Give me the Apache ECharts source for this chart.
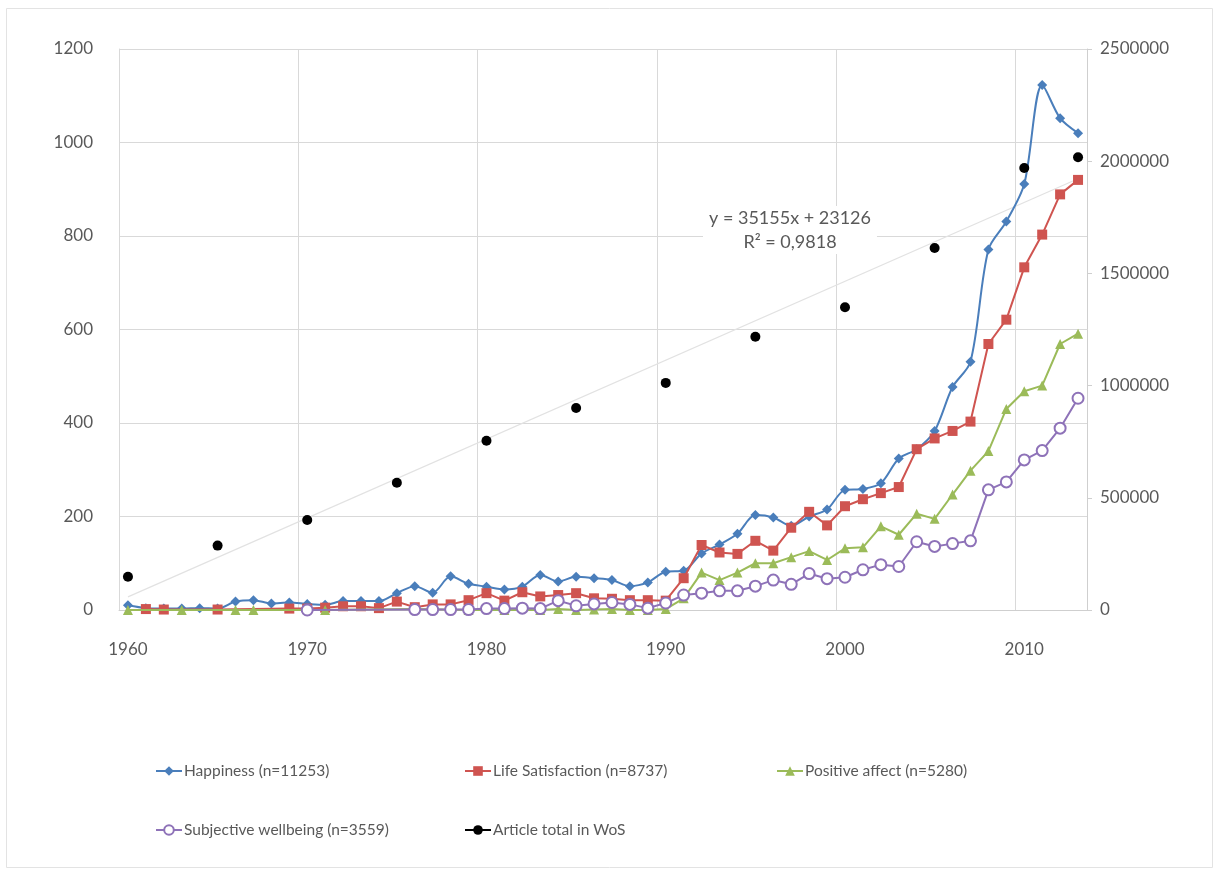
<!DOCTYPE html>
<html>
<head>
<meta charset="utf-8">
<title>Wellbeing publications per year</title>
<script src="https://cdn.jsdelivr.net/npm/echarts@6/dist/echarts.min.js"></script>
<style>
  html, body { margin: 0; padding: 0; background: #ffffff; }
  #chart { width: 1219px; height: 875px; }
</style>
</head>
<body>
<div id="chart"></div>
<script>
// Publication years (one category per year)
const years = [];
for (let y = 1960; y <= 2013; y++) years.push(String(y));

// Articles per year by keyword (left axis); null = no entry that year
const happiness = [
  10, 4, 3, 3, 4, 3, 18, 21, 14, 16,
  13, 11, 19, 19, 19, 36, 51, 37, 72, 56,
  50, 44, 50, 75, 61, 71, 68, 64, 51, 59,
  82, 84, 121, 140, 163, 203, 198, 180, 200, 215,
  257, 259, 271, 324, 344, 383, 477, 531, 771, 831,
  911, 1123, 1052, 1020
];
const lifeSatisfaction = [
  null, 2, 1, null, null, 1, null, null, null, 3,
  3, 5, 8, 8, 4, 18, 6, 12, 12, 21,
  36, 20, 38, 29, 32, 36, 25, 24, 21, 21,
  20, 68, 139, 123, 120, 148, 127, 176, 210, 181,
  222, 237, 250, 263, 344, 367, 383, 403, 569, 621,
  733, 803, 889, 920
];
const positiveAffect = [
  0, null, null, 0, null, null, 0, 0, null, null,
  null, 0, null, null, null, null, 2, null, null, 0,
  null, 0, null, 0, 2, 0, 1, 2, 0, 0,
  2, 25, 80, 64, 80, 100, 100, 113, 126, 107,
  132, 134, 179, 161, 206, 195, 247, 298, 340, 430,
  468, 480, 569, 591
];
const subjectiveWellbeing = [
  null, null, null, null, null, null, null, null, null, null,
  0, null, null, null, null, null, 1, 1, 1, 1,
  3, 3, 4, 3, 20, 9, 13, 16, 12, 4,
  15, 32, 36, 41, 41, 51, 64, 55, 78, 67,
  70, 86, 97, 93, 146, 136, 142, 148, 257, 274,
  321, 341, 389, 453
];

// Total articles in Web of Science (right axis), sampled years
const wosYears = ['1960', '1965', '1970', '1975', '1980', '1985', '1990', '1995', '2000', '2005', '2010', '2013'];
const wosTotals = [148000, 287000, 401000, 567000, 754000, 900000, 1012000, 1218000, 1349000, 1613000, 1970000, 2018000];

// Linear trend of the WoS totals (x = category number, starting at 1)
const trendSlope = 35155;
const trendIntercept = 23126;
const trendLabel = ['y = 35155x + 23126', 'R\u00B2 = 0,9818'];

// Tick labels for both value axes
const leftTicks = [0, 200, 400, 600, 800, 1000, 1200];
const rightTicks = [0, 500000, 1000000, 1500000, 2000000, 2500000];

const seriesNames = [
  'Happiness (n=11253)',
  'Life Satisfaction (n=8737)',
  'Positive affect (n=5280)',
  'Subjective wellbeing (n=3559)',
  'Article total in WoS'
];

// WoS totals laid onto the full year list
const wosSeries = years.map(y => {
  const i = wosYears.indexOf(y);
  return i >= 0 ? wosTotals[i] : null;
});

// Trend line drawn between the first and last category
const trendSeries = years.map((y, i) =>
  (i === 0 || i === years.length - 1) ? trendSlope * (i + 1) + trendIntercept : null
);

const FONT = 'Lato, Carlito, "Open Sans", sans-serif';
const TEXT = '#595959';
const GRID = '#d9d9d9';
const plain = v => String(v);

const legendBase = {
  orient: 'horizontal',
  itemWidth: 26,
  itemHeight: 12,
  itemGap: 0,
  selectedMode: false,
  textStyle: { fontFamily: FONT, fontSize: 15.5, color: TEXT, padding: [0, 0, 0, -3] }
};

const chart = echarts.init(document.getElementById('chart'), null, { renderer: 'canvas' });

chart.setOption({
  animation: false,
  backgroundColor: '#ffffff',
  grid: { left: 119, right: 132, top: 49, bottom: 265, containLabel: false },
  graphic: [
    {
      type: 'rect',
      shape: { x: 6.5, y: 8.5, width: 1206, height: 859 },
      style: { fill: 'none', stroke: '#e3e3e3', lineWidth: 1 },
      silent: true, z: -10
    },
    {
      // trend equation box (white fill covers the gridline behind it)
      type: 'text',
      x: 790, y: 206,
      z: 100,
      style: {
        text: trendLabel.join('\n'),
        font: '18px ' + FONT,
        fill: TEXT,
        align: 'center',
        verticalAlign: 'top',
        lineHeight: 24,
        backgroundColor: '#ffffff',
        padding: [0, 6, 0, 6]
      },
      silent: true
    }
  ],
  legend: [
    Object.assign({}, legendBase, { data: [seriesNames[0]], left: 150, top: 758 }),
    Object.assign({}, legendBase, { data: [seriesNames[1]], left: 459, top: 758 }),
    Object.assign({}, legendBase, { data: [seriesNames[2]], left: 771, top: 758 }),
    Object.assign({}, legendBase, { data: [seriesNames[3]], left: 150, top: 817 }),
    Object.assign({}, legendBase, {
      data: [seriesNames[4]], left: 459, top: 817,
      lineStyle: { color: '#000000', width: 2, opacity: 1 }
    })
  ],
  xAxis: {
    type: 'category',
    data: years,
    boundaryGap: true,
    axisLine: { show: true, lineStyle: { color: '#cfcfcf', width: 1 } },
    axisTick: { show: false },
    axisLabel: { interval: 9, color: TEXT, fontFamily: FONT, fontSize: 17, margin: 31 },
    splitLine: { show: true, interval: 9, lineStyle: { color: GRID, width: 1 } }
  },
  yAxis: [
    {
      type: 'value',
      min: leftTicks[0],
      max: leftTicks[leftTicks.length - 1],
      interval: leftTicks[1] - leftTicks[0],
      axisLine: { show: true, lineStyle: { color: GRID } },
      axisTick: { show: false },
      axisLabel: { color: TEXT, fontFamily: FONT, fontSize: 17, margin: 26, formatter: plain },
      splitLine: { show: true, lineStyle: { color: GRID, width: 1 } }
    },
    {
      type: 'value',
      position: 'right',
      min: rightTicks[0],
      max: rightTicks[rightTicks.length - 1],
      interval: rightTicks[1] - rightTicks[0],
      axisLine: { show: true, lineStyle: { color: '#cfcfcf' } },
      axisTick: { show: true, inside: false, length: 5, lineStyle: { color: '#cfcfcf' } },
      axisLabel: { color: TEXT, fontFamily: FONT, fontSize: 17, margin: 13, formatter: plain },
      splitLine: { show: false }
    }
  ],
  series: [
    {
      name: 'trend',
      type: 'line',
      yAxisIndex: 1,
      data: trendSeries,
      connectNulls: true,
      showSymbol: false,
      symbol: 'none',
      silent: true,
      lineStyle: { color: '#e2e2e2', width: 1.2 },
      z: 1
    },
    {
      name: seriesNames[0],
      type: 'line',
      data: happiness,
      smooth: 0.3,
      connectNulls: true,
      symbol: 'diamond',
      symbolSize: 10,
      itemStyle: { color: '#4A7EBB' },
      lineStyle: { color: '#4A7EBB', width: 2 },
      z: 2
    },
    {
      name: seriesNames[1],
      type: 'line',
      data: lifeSatisfaction,
      connectNulls: true,
      symbol: 'rect',
      symbolSize: 10,
      itemStyle: { color: '#CF5450' },
      lineStyle: { color: '#CF5450', width: 2 },
      z: 3
    },
    {
      name: seriesNames[2],
      type: 'line',
      data: positiveAffect,
      connectNulls: true,
      symbol: 'triangle',
      symbolSize: 10,
      itemStyle: { color: '#9BBB59' },
      lineStyle: { color: '#9BBB59', width: 2 },
      z: 4
    },
    {
      name: seriesNames[3],
      type: 'line',
      data: subjectiveWellbeing,
      connectNulls: true,
      symbol: 'emptyCircle',
      symbolSize: 11,
      itemStyle: { color: '#8E72B8', borderColor: '#8E72B8', borderWidth: 1.5 },
      lineStyle: { color: '#8E72B8', width: 2 },
      z: 5
    },
    {
      name: seriesNames[4],
      type: 'line',
      yAxisIndex: 1,
      data: wosSeries,
      connectNulls: true,
      symbol: 'circle',
      symbolSize: 10,
      itemStyle: { color: '#000000' },
      lineStyle: { color: '#000000', width: 2, opacity: 0 },
      z: 6
    }
  ]
});
</script>
</body>
</html>
